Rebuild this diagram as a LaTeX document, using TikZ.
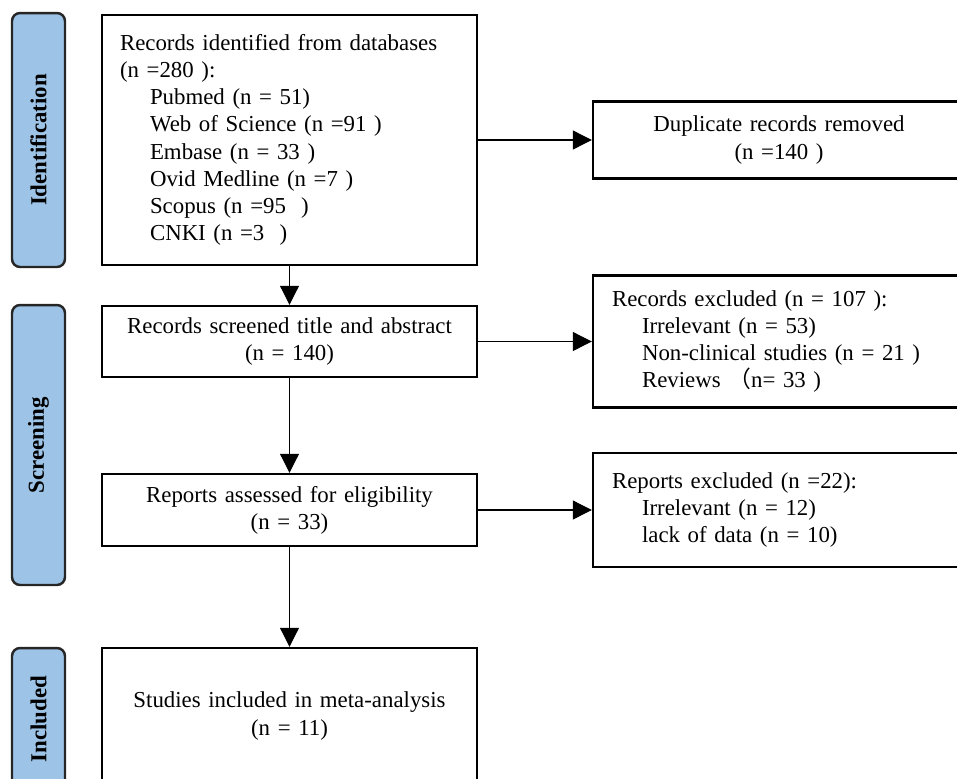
\documentclass[tikz,border=0pt]{standalone}
\usepackage{fontspec}
\setmainfont{Liberation Serif}
\newfontfamily\cjk{Noto Sans CJK SC}
\usetikzlibrary{arrows.meta}
\definecolor{stageblue}{HTML}{9DC3E6}

\begin{document}
\begin{tikzpicture}[x=0.02cm, y=-0.02cm]
	\tikzset{b/.style={draw=black, line width=1.4pt, font=\fontsize{13}{15.5}\selectfont},
	lb/.style={b, align=left, text width=6.78cm, inner xsep=0.36cm},
	cb/.style={b, align=center, text width=6.78cm, inner xsep=0.36cm},
	rb/.style={b, align=left, text width=6.68cm, inner xsep=0.38cm},
	db/.style={rb, align=center},
	stage/.style={draw=black!85, line width=1.4pt, fill=stageblue, rounded corners=0.16cm, rotate=90, minimum height=1.06cm, font=\fontsize{13}{15.5}\selectfont\bfseries},
	f/.style={-{Triangle[length=0.38cm, width=0.38cm]}, line width=0.6pt}};
	\useasboundingbox (0,0) rectangle (957,778);
	\clip (0,0) rectangle (957,778);

	\node[stage, minimum width=5.08cm] (il) at (38.5,140) {Identification};
	\node[stage, minimum width=5.6cm] (sl) at (38.5,445) {Screening};
	\node[stage, minimum width=2.84cm] (nl) at (38.5,719) {Included};

	\node[lb, minimum height=5cm] (r) at (289.5,140) {Records identified from databases\\(n =280 ):\\
		\hspace*{0.6cm}Pubmed (n = 51)\\
		\hspace*{0.6cm}Web of Science (n =91 )\\
		\hspace*{0.6cm}Embase (n = 33 )\\
		\hspace*{0.6cm}Ovid Medline (n =7 )\\
		\hspace*{0.6cm}Scopus (n =95~ )\\
		\hspace*{0.6cm}CNKI (n =3~ )};
	\node[db, minimum height=1.54cm] (d) at (779,140) {Duplicate records removed\\(n =140 )};
	\node[cb, minimum height=1.42cm] (s) at (289.5,341.5) {Records screened title and abstract\\(n = 140)};
	\node[rb, minimum height=2.64cm] (x) at (779,341.5) {Records excluded (n = 107 ):\\
		\hspace*{0.6cm}Irrelevant (n = 53)\\
		\hspace*{0.6cm}Non-clinical studies (n = 21 )\\
		\hspace*{0.6cm}Reviews {\cjk （}n= 33 )};
	\node[cb, minimum height=1.44cm] (e) at (289.5,510) {Reports assessed for eligibility\\(n = 33)};
	\node[rb, minimum height=2.28cm] (y) at (779,510) {Reports excluded (n =22):\\
		\hspace*{0.6cm}Irrelevant (n = 12)\\
		\hspace*{0.6cm}lack of data (n = 10)};
	\node[cb, minimum height=2.72cm] (i) at (289.5,716) {Studies included in meta-analysis\\(n = 11)};

	\draw[f] (r) -- (d);
	\draw[f] (r) -- (s);
	\draw[f] (s) -- (x);
	\draw[f] (s) -- (e);
	\draw[f] (e) -- (y);
	\draw[f] (e) -- (i);
\end{tikzpicture}
\end{document}
